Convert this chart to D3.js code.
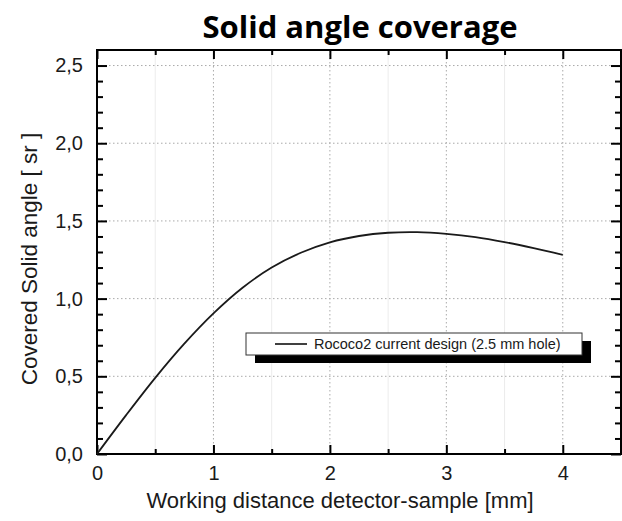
<!DOCTYPE html>
<html>
<head>
<meta charset="utf-8">
<script src="https://cdn.jsdelivr.net/npm/d3@7"></script>
<style>
  body { margin: 0; background: #fff; }
  svg { display: block; }
</style>
</head>
<body>
<svg id="chart"></svg>
<script>
// data
const distance = [0, 0.25, 0.5, 0.75, 1, 1.25, 1.5, 1.75, 2, 2.25, 2.5, 2.75, 3, 3.25, 3.5, 3.75, 4];
const solidAngle = [0, 0.25, 0.49, 0.71, 0.905, 1.07, 1.2, 1.295, 1.362, 1.403, 1.424, 1.428, 1.417, 1.396, 1.364, 1.325, 1.282];
const xTicks = [0, 1, 2, 3, 4];
const yTicks = [0, 0.5, 1.0, 1.5, 2.0, 2.5];
const seriesName = "Rococo2 current design (2.5 mm hole)";

const w = 622, h = 521;
const svg = d3.select("#chart").attr("width", w).attr("height", h);

// scales
const x = d3.scaleLinear().domain([0, 4.5]).range([97, 621]);
const y = d3.scaleLinear().domain([0, 2.6]).range([454, 50]);
const fmt = d => d3.format(".1f")(d).replace(".", ",");

// faint minor verticals
svg.append("g")
  .selectAll("line")
  .data(d3.range(0.5, 4.5, 1))
  .join("line")
    .attr("x1", d => x(d)).attr("x2", d => x(d))
    .attr("y1", y(2.6)).attr("y2", y(0))
    .attr("stroke", "#ececec").attr("stroke-width", 1);

// dotted major grid
svg.append("g")
  .selectAll("line")
  .data(xTicks.slice(1))
  .join("line")
    .attr("x1", d => x(d)).attr("x2", d => x(d))
    .attr("y1", y(2.6)).attr("y2", y(0))
    .attr("stroke", "#aaa").attr("stroke-dasharray", "1.5,2.5");
svg.append("g")
  .selectAll("line")
  .data(yTicks.slice(1))
  .join("line")
    .attr("x1", x(0)).attr("x2", x(4.5))
    .attr("y1", d => y(d)).attr("y2", d => y(d))
    .attr("stroke", "#aaa").attr("stroke-dasharray", "1.5,2.5");

// axes: ticks pointing inward
function styleAxis(g) {
  g.select(".domain").remove();
  g.selectAll(".tick line").attr("stroke", "#000").attr("stroke-width", 2);
}
const xMinor = d3.range(0.5, 4.5, 1);
const yMinor = d3.range(0, 26).map(i => i / 10).filter(v => Math.round(v * 10) % 5 !== 0);

svg.append("g").attr("transform", `translate(0,${y(0)})`)
  .call(d3.axisBottom(x).tickValues(xTicks).tickSize(-9).tickFormat(d3.format("d")))
  .call(styleAxis)
  .call(g => g.selectAll("text").attr("y", 12).attr("dy", "0.71em"));
svg.append("g").attr("transform", `translate(0,${y(0)})`)
  .call(d3.axisBottom(x).tickValues(xMinor).tickSize(-5).tickFormat(""))
  .call(styleAxis);
svg.append("g").attr("transform", `translate(0,${y(2.6)})`)
  .call(d3.axisTop(x).tickValues(xTicks).tickSize(-9).tickFormat(""))
  .call(styleAxis);
svg.append("g").attr("transform", `translate(0,${y(2.6)})`)
  .call(d3.axisTop(x).tickValues(xMinor).tickSize(-5).tickFormat(""))
  .call(styleAxis);

svg.append("g").attr("transform", `translate(${x(0)},0)`)
  .call(d3.axisLeft(y).tickValues(yTicks).tickSize(-10).tickFormat(fmt))
  .call(styleAxis)
  .call(g => g.selectAll("text").attr("x", -14));
svg.append("g").attr("transform", `translate(${x(0)},0)`)
  .call(d3.axisLeft(y).tickValues(yMinor).tickSize(-6).tickFormat(""))
  .call(styleAxis);
svg.append("g").attr("transform", `translate(${x(4.5)},0)`)
  .call(d3.axisRight(y).tickValues(yTicks).tickSize(-10).tickFormat(""))
  .call(styleAxis);
svg.append("g").attr("transform", `translate(${x(4.5)},0)`)
  .call(d3.axisRight(y).tickValues(yMinor).tickSize(-6).tickFormat(""))
  .call(styleAxis);

svg.selectAll(".tick text")
  .attr("font-family", "'Liberation Sans', Arial, sans-serif")
  .attr("font-size", 20)
  .attr("fill", "#1a1a1a");

// frame
svg.append("rect")
  .attr("x", x(0)).attr("y", y(2.6))
  .attr("width", x(4.5) - x(0)).attr("height", y(0) - y(2.6))
  .attr("fill", "none").attr("stroke", "#000").attr("stroke-width", 2);

// curve
const line = d3.line()
  .x((d, i) => x(distance[i]))
  .y(d => y(d))
  .curve(d3.curveCatmullRom);
svg.append("path")
  .datum(solidAngle)
  .attr("d", line)
  .attr("fill", "none")
  .attr("stroke", "#1a1a1a")
  .attr("stroke-width", 1.8);

// legend with drop shadow
const lg = svg.append("g").attr("transform", "translate(246,333)");
lg.append("rect").attr("x", 9).attr("y", 8).attr("width", 336).attr("height", 22).attr("fill", "#000");
lg.append("rect").attr("x", 0).attr("y", 0).attr("width", 336).attr("height", 22)
  .attr("fill", "#fff").attr("stroke", "#333").attr("stroke-width", 1);
lg.append("line").attr("x1", 29).attr("x2", 61).attr("y1", 11).attr("y2", 11)
  .attr("stroke", "#000").attr("stroke-width", 1.5);
lg.append("text").attr("x", 68).attr("y", 16)
  .attr("font-family", "'Liberation Sans', Arial, sans-serif")
  .attr("font-size", 14.5).attr("fill", "#1a1a1a")
  .text(seriesName);

// titles
svg.append("text")
  .attr("x", 360).attr("y", 38)
  .attr("text-anchor", "middle")
  .attr("font-family", "'Open Sans', 'Noto Sans', sans-serif")
  .attr("font-weight", "bold")
  .attr("font-size", 31)
  .attr("fill", "#000")
  .text("Solid angle coverage");

svg.append("text")
  .attr("x", 340).attr("y", 508)
  .attr("text-anchor", "middle")
  .attr("font-family", "'Liberation Sans', Arial, sans-serif")
  .attr("font-size", 22)
  .attr("fill", "#1a1a1a")
  .text("Working distance detector-sample [mm]");

svg.append("text")
  .attr("transform", "translate(37,259) rotate(-90)")
  .attr("text-anchor", "middle")
  .attr("font-family", "'Liberation Sans', Arial, sans-serif")
  .attr("font-size", 22.5)
  .attr("fill", "#1a1a1a")
  .text("Covered Solid angle [ sr ]");
</script>
</body>
</html>
